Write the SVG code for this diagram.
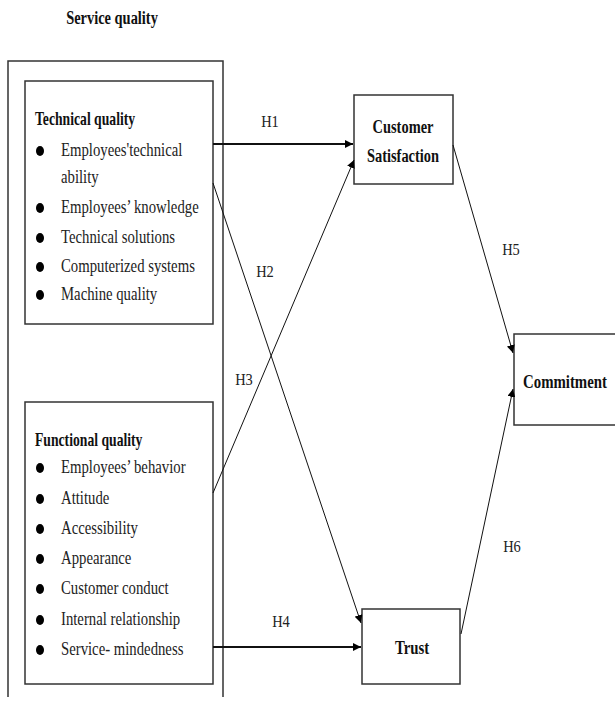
<svg xmlns="http://www.w3.org/2000/svg" width="615" height="707" viewBox="0 0 615 707">
<style>
.box{fill:#fff;stroke:#333;stroke-width:1.5}
.t{font-family:"Liberation Serif","Times New Roman",serif;fill:#111}
.b{font-weight:bold;font-size:19px}
.sub{font-weight:bold;font-size:18px}
.it{font-size:18px;fill:#222}
.h{font-size:17px;fill:#222}
.con{stroke:#111;fill:none;stroke-width:1}
.thick{stroke-width:1.8}
.dot{fill:#000}
</style>
<defs>
<marker id="ah" viewBox="0 0 10 10" refX="10" refY="5" markerWidth="8" markerHeight="8" markerUnits="userSpaceOnUse" orient="auto">
<path d="M0,0 L10,5 L0,10 z" fill="#000"/>
</marker>
</defs>
<rect width="615" height="707" fill="#fff"/>

<g id="service-quality">
<text class="t b" transform="matrix(0.76 0 0 1 112 24)" text-anchor="middle">Service quality</text>
<path d="M8,697 V61 H223 V697" class="box" fill="none"/>
</g>

<g id="technical-quality">
<rect class="box" x="25" y="81" width="188" height="243"/>
<text class="t sub" transform="matrix(0.76 0 0 1 35 125)">Technical quality</text>
<ellipse class="dot" cx="40" cy="151" rx="4" ry="5"/>
<text class="t it" transform="matrix(0.82 0 0 1 61 156)">Employees'technical</text>
<text class="t it" transform="matrix(0.82 0 0 1 61 183)">ability</text>
<ellipse class="dot" cx="40" cy="208" rx="4" ry="5"/>
<text class="t it" transform="matrix(0.82 0 0 1 61 213)">Employees’ knowledge</text>
<ellipse class="dot" cx="40" cy="238" rx="4" ry="5"/>
<text class="t it" transform="matrix(0.82 0 0 1 61 243)">Technical solutions</text>
<ellipse class="dot" cx="40" cy="267" rx="4" ry="5"/>
<text class="t it" transform="matrix(0.82 0 0 1 61 272)">Computerized systems</text>
<ellipse class="dot" cx="40" cy="295" rx="4" ry="5"/>
<text class="t it" transform="matrix(0.82 0 0 1 61 300)">Machine quality</text>
</g>

<g id="functional-quality">
<rect class="box" x="25" y="402" width="188" height="282"/>
<text class="t sub" transform="matrix(0.76 0 0 1 35 446)">Functional quality</text>
<ellipse class="dot" cx="40" cy="468" rx="4" ry="5"/>
<text class="t it" transform="matrix(0.82 0 0 1 61 473)">Employees’ behavior</text>
<ellipse class="dot" cx="40" cy="499" rx="4" ry="5"/>
<text class="t it" transform="matrix(0.82 0 0 1 61 504)">Attitude</text>
<ellipse class="dot" cx="40" cy="529" rx="4" ry="5"/>
<text class="t it" transform="matrix(0.82 0 0 1 61 534)">Accessibility</text>
<ellipse class="dot" cx="40" cy="559" rx="4" ry="5"/>
<text class="t it" transform="matrix(0.82 0 0 1 61 564)">Appearance</text>
<ellipse class="dot" cx="40" cy="589" rx="4" ry="5"/>
<text class="t it" transform="matrix(0.82 0 0 1 61 594)">Customer conduct</text>
<ellipse class="dot" cx="40" cy="620" rx="4" ry="5"/>
<text class="t it" transform="matrix(0.82 0 0 1 61 625)">Internal relationship</text>
<ellipse class="dot" cx="40" cy="650" rx="4" ry="5"/>
<text class="t it" transform="matrix(0.82 0 0 1 61 655)">Service- mindedness</text>
</g>

<g id="customer-satisfaction">
<rect class="box" x="354" y="95" width="99" height="89"/>
<text class="t b" transform="matrix(0.76 0 0 1 403 133)" text-anchor="middle">Customer</text>
<text class="t b" transform="matrix(0.76 0 0 1 403 162)" text-anchor="middle">Satisfaction</text>
</g>

<g id="commitment">
<rect class="box" x="514" y="334" width="105" height="91"/>
<text class="t b" transform="matrix(0.78 0 0 1 565 388)" text-anchor="middle">Commitment</text>
</g>

<g id="trust">
<rect class="box" x="362" y="609" width="98" height="75"/>
<text class="t b" transform="matrix(0.78 0 0 1 412 654)" text-anchor="middle">Trust</text>
</g>

<g id="connectors">
<line class="con thick" x1="213" y1="144" x2="353" y2="144" marker-end="url(#ah)"/>
<line class="con" x1="213" y1="183" x2="361" y2="623" marker-end="url(#ah)"/>
<line class="con" x1="213" y1="493" x2="354" y2="160" marker-end="url(#ah)"/>
<line class="con thick" x1="213" y1="647" x2="361" y2="647" marker-end="url(#ah)"/>
<line class="con" x1="453" y1="145" x2="513" y2="353" marker-end="url(#ah)"/>
<line class="con" x1="461" y1="634" x2="513" y2="389" marker-end="url(#ah)"/>
<text class="t h" transform="matrix(0.85 0 0 1 270 127)" text-anchor="middle">H1</text>
<text class="t h" transform="matrix(0.85 0 0 1 265 277)" text-anchor="middle">H2</text>
<text class="t h" transform="matrix(0.85 0 0 1 244 385)" text-anchor="middle">H3</text>
<text class="t h" transform="matrix(0.85 0 0 1 281 627)" text-anchor="middle">H4</text>
<text class="t h" transform="matrix(0.85 0 0 1 511 255)" text-anchor="middle">H5</text>
<text class="t h" transform="matrix(0.85 0 0 1 512 552)" text-anchor="middle">H6</text>
</g>
</svg>
